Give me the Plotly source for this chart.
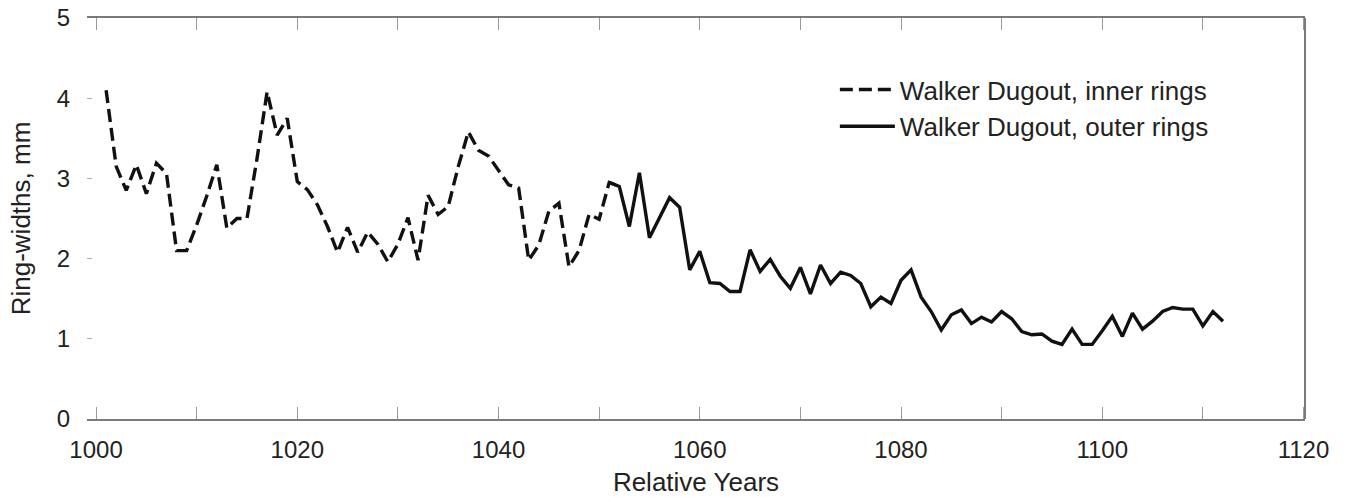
import plotly.graph_objects as go

# Inner rings (dashed)
inner_years = list(range(1001, 1053))
inner_widths = [4.10, 3.15, 2.85, 3.17, 2.81, 3.19, 3.06, 2.10, 2.10, 2.42,
                2.78, 3.17, 2.38, 2.50, 2.50, 3.25, 4.08, 3.54, 3.75, 2.96,
                2.86, 2.67, 2.40, 2.08, 2.39, 2.08, 2.33, 2.18, 1.96, 2.18,
                2.51, 1.98, 2.79, 2.55, 2.65, 3.15, 3.58, 3.35, 3.28, 3.10,
                2.92, 2.88, 1.98, 2.17, 2.59, 2.69, 1.90, 2.10, 2.55, 2.49,
                2.95, 2.90]

# Outer rings (solid)
outer_years = list(range(1051, 1113))
outer_widths = [2.95, 2.90, 2.40, 3.07, 2.26, 2.50, 2.76, 2.64, 1.86, 2.09,
                1.70, 1.69, 1.59, 1.59, 2.11, 1.84, 1.99, 1.78, 1.63, 1.89,
                1.56, 1.92, 1.69, 1.83, 1.79, 1.69, 1.40, 1.52, 1.44, 1.73,
                1.86, 1.52, 1.34, 1.11, 1.30, 1.36, 1.19, 1.27, 1.21, 1.34,
                1.25, 1.09, 1.05, 1.06, 0.97, 0.93, 1.12, 0.93, 0.93, 1.10,
                1.28, 1.03, 1.32, 1.12, 1.22, 1.34, 1.39, 1.37, 1.37, 1.16,
                1.34, 1.22]

x_tickvals = [1000, 1020, 1040, 1060, 1080, 1100, 1120]
y_tickvals = [0, 1, 2, 3, 4, 5]

FONT = "Liberation Sans, Arial, sans-serif"

fig = go.Figure()
fig.add_trace(go.Scatter(
    x=inner_years, y=inner_widths, mode="lines",
    name="Walker Dugout, inner rings",
    line=dict(color="#111111", width=3.4, dash="13px,6px"),
))
fig.add_trace(go.Scatter(
    x=outer_years, y=outer_widths, mode="lines",
    name="Walker Dugout, outer rings",
    line=dict(color="#111111", width=3.4),
))

fig.update_layout(
    width=1351, height=497,
    margin=dict(l=87, r=46, t=18, b=78),
    paper_bgcolor="white", plot_bgcolor="white",
    font=dict(family=FONT, size=24, color="#222222"),
    showlegend=True,
    legend=dict(
        x=0.614, y=0.88, xanchor="left", yanchor="top",
        bgcolor="rgba(0,0,0,0)", font=dict(size=26, color="#222222"),
        tracegroupgap=0, itemwidth=55,
    ),
    xaxis=dict(
        range=[999.1, 1120.15],
        automargin=False,
        tickvals=x_tickvals,
        ticktext=[str(v) for v in x_tickvals],
        showgrid=False, zeroline=False,
        showline=True, linecolor="#7a7a7a", linewidth=2, mirror="ticks",
        ticks="inside", ticklen=12, tickcolor="#9a9a9a", tickwidth=1,
        minor=dict(dtick=10, tick0=1000, ticks="inside", ticklen=12,
                   tickcolor="#9a9a9a", tickwidth=1, showgrid=False),
        tickfont=dict(size=24, color="#222222"),
        ticklabelstandoff=8,
        title=dict(text="Relative Years", font=dict(size=26, color="#222222"), standoff=14),
    ),
    yaxis=dict(
        range=[0, 5],
        automargin=False,
        tickvals=y_tickvals,
        showgrid=False, zeroline=False, showline=False,
        ticks="inside", ticklen=5, tickcolor="#aaaaaa", tickwidth=1,
        tickfont=dict(size=24, color="#222222"),
        ticklabelstandoff=16,
        title=dict(text="Ring-widths, mm", font=dict(size=26, color="#222222"), standoff=18),
    ),
    shapes=[dict(type="line", xref="paper", yref="paper", x0=1, x1=1, y0=0, y1=1,
                 line=dict(color="#7a7a7a", width=2))],
)

fig.write_html("out.html")
